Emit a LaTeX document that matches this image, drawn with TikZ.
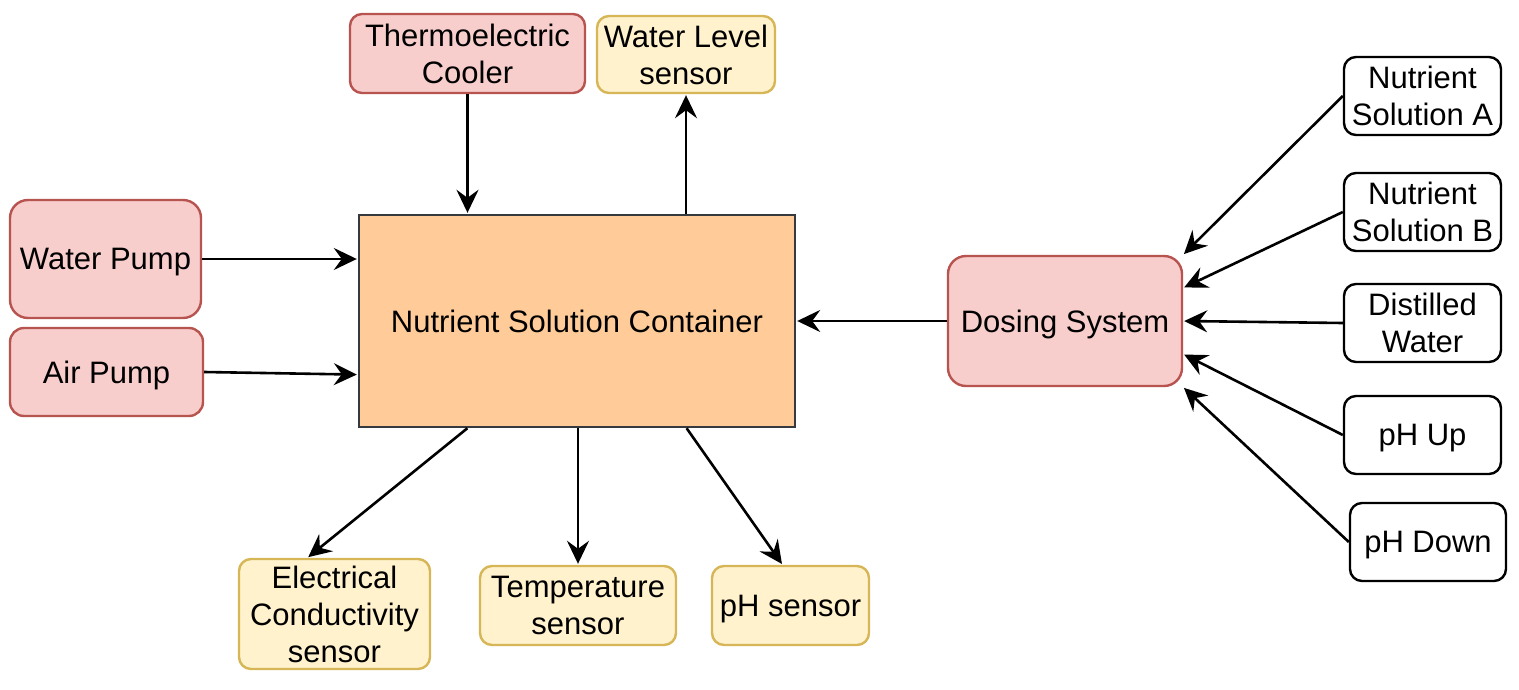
\documentclass[tikz,border=0pt]{standalone}
\usepackage{fontspec}
\setmainfont{Liberation Sans}
\usetikzlibrary{arrows.meta,calc}
\definecolor{redfill}{HTML}{F8CECC}
\definecolor{redline}{HTML}{B85450}
\definecolor{yelfill}{HTML}{FFF2CC}
\definecolor{yelline}{HTML}{D6B656}
\definecolor{orfill}{HTML}{FFCC99}
\definecolor{orline}{HTML}{36393D}
\tikzset{
  box/.style={draw, line width=2.4pt, rounded corners=12pt, inner sep=0pt, align=center,
    text depth=0pt, font=\fontsize{31}{37}\selectfont},
  redbox/.style={box, fill=redfill, draw=redline},
  yelbox/.style={box, fill=yelfill, draw=yelline},
  whitebox/.style={box, fill=white, draw=black},
  conn/.style={line width=2.6pt, shorten >=1pt, -{Stealth[length=23pt,width=22pt,inset=8pt]}},
}
\begin{document}
\begin{tikzpicture}[x=1pt,y=-1pt]
\useasboundingbox (0,0) rectangle (1519,690);
% main container
\node[box, rounded corners=0pt, fill=orfill, draw=orline, minimum width=436pt, minimum height=212pt] (nsc) at (577,321) {Nutrient Solution Container};
% top
\node[redbox, minimum width=235pt, minimum height=79pt] (tec) at (467.5,53.5) {Thermoelectric\\Cooler};
\node[yelbox, minimum width=178pt, minimum height=77pt] (wls) at (686,54.5) {Water Level\\sensor};
% left
\node[redbox, rounded corners=18pt, minimum width=191pt, minimum height=118pt] (wp) at (105.5,259) {Water Pump};
\node[redbox, rounded corners=14pt, minimum width=193pt, minimum height=88pt] (ap) at (106.5,372) {Air Pump};
% bottom sensors
\node[yelbox, minimum width=191pt, minimum height=110pt] (ec) at (334.5,614) {Electrical\\Conductivity\\sensor};
\node[yelbox, minimum width=196pt, minimum height=79pt] (temp) at (578,605.5) {Temperature\\sensor};
\node[yelbox, minimum width=157pt, minimum height=79pt] (phs) at (790.5,605.5) {pH sensor};
% dosing
\node[redbox, rounded corners=18pt, minimum width=234pt, minimum height=130pt] (ds) at (1065,321) {Dosing System};
% right inputs
\node[whitebox, minimum width=157pt, minimum height=78pt] (nsa) at (1422.5,96) {Nutrient\\Solution A};
\node[whitebox, minimum width=157pt, minimum height=78pt] (nsb) at (1422.5,212) {Nutrient\\Solution B};
\node[whitebox, minimum width=157pt, minimum height=78pt] (dw) at (1422.5,323) {Distilled\\Water};
\node[whitebox, minimum width=157pt, minimum height=78pt] (phu) at (1422.5,435) {pH Up};
\node[whitebox, minimum width=156pt, minimum height=78pt] (phd) at (1428,542) {pH Down};
% connectors
\draw[conn] (tec.south) -- (tec.south |- nsc.north);
\draw[conn] (wls.south |- nsc.north) -- (wls.south);
\draw[conn] (wp.east) -- (wp.east -| nsc.west);
\draw[conn] (ap.east) -- ($(nsc.north west)!0.75!(nsc.south west)$);
\draw[conn] (ds.west) -- (ds.west -| nsc.east);
\draw[conn] ($(nsc.south west)!0.25!(nsc.south east)$) -- ($(ec.north west)!0.36!(ec.north east)$);
\draw[conn] (temp.north |- nsc.south) -- (temp.north);
\draw[conn] ($(nsc.south west)!0.75!(nsc.south east)$) -- ($(phs.north west)!0.45!(phs.north east)$);
\draw[conn] (nsa.west) -- (ds.north east);
\draw[conn] (nsb.west) -- ($(ds.north east)!0.25!(ds.south east)$);
\draw[conn] (dw.west) -- (ds.east);
\draw[conn] (phu.west) -- ($(ds.north east)!0.75!(ds.south east)$);
\draw[conn] (phd.west) -- (ds.south east);
\end{tikzpicture}
\end{document}
